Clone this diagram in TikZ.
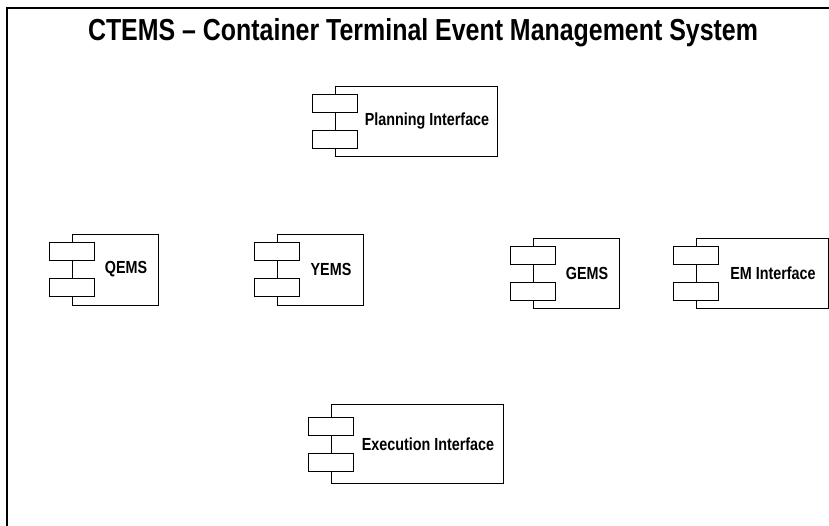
\documentclass[tikz,border=0pt]{standalone}
\usepackage{fontspec}
\setmainfont{Liberation Sans}[FakeStretch=0.82]
\usetikzlibrary{positioning}

% one UML component: name, centre, width, height, label
\newcommand{\umlcomp}[5]{%
  \node[compbox,minimum width=#3pt,minimum height=#4pt] (#1) at #2 {};
  \node[port,yshift=18pt] (#1-p1) at (#1.west) {};
  \node[port,yshift=-18pt] (#1-p2) at (#1.west) {};
  \node[complabel,xshift=11pt] (#1-l) at (#1.center) {#5};
}

\begin{document}
\begin{tikzpicture}[x=1pt,y=-1pt]
\tikzstyle{compbox}=[draw=black,fill=white,line width=0.8pt,inner sep=0pt]
\tikzstyle{port}=[draw=black,fill=white,line width=0.8pt,minimum width=45pt,minimum height=18pt,inner sep=0pt]
\tikzstyle{complabel}=[font=\bfseries\fontsize{17.5}{20}\selectfont,inner sep=0pt]
\tikzstyle{frame}=[draw=black,line width=2pt]
\useasboundingbox (0,0) rectangle (829,525);
\draw[frame] (7,530) -- (7,8) -- (835,8);
\node[font=\bfseries\fontsize{30.4}{36}\selectfont] (title) at (423,33) {CTEMS -- Container Terminal Event Management System};

\umlcomp{plan}{(416,121)}{162}{70}{Planning Interface}
\umlcomp{qems}{(115,269.5)}{86}{71}{QEMS}
\umlcomp{yems}{(320,269.5)}{86}{71}{YEMS}
\umlcomp{gems}{(576,273)}{86}{70}{GEMS}
\umlcomp{em}{(762,273)}{132}{70}{EM Interface}
\umlcomp{exec}{(417,444)}{172}{79}{Execution Interface}
\end{tikzpicture}
\end{document}
